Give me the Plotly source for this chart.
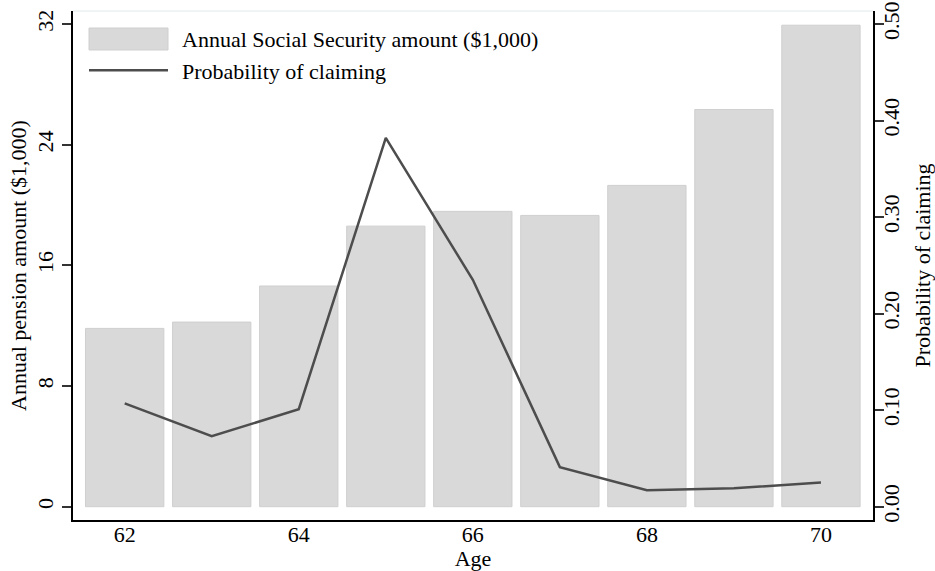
import plotly.graph_objects as go

# Data
ages = [62, 63, 64, 65, 66, 67, 68, 69, 70]
ss_amount = [11.82, 12.24, 14.63, 18.60, 19.58, 19.31, 21.30, 26.33, 31.92]   # $1,000
p_claim = [0.107, 0.073, 0.101, 0.382, 0.235, 0.041, 0.017, 0.019, 0.025]
left_ticks = [0, 8, 16, 24, 32]
right_ticks = [0.0, 0.1, 0.2, 0.3, 0.4, 0.5]
x_ticks = [62, 64, 66, 68, 70]

bar_name = "Annual Social Security amount ($1,000)"
line_name = "Probability of claiming"

FONT = "'Liberation Serif', 'Times New Roman', Times, serif"
BAR_FILL = "#d9d9d9"
BAR_EDGE = "#cfcfcf"
LINE_COLOR = "#4d4d4d"

W, H = 935, 571
ML, MR, MT, MB = 73, 62, 11, 51
PW, PH = W - ML - MR, H - MT - MB

fig = go.Figure()
fig.add_trace(go.Bar(
    x=ages, y=ss_amount, width=0.9, name=bar_name,
    marker=dict(color=BAR_FILL, line=dict(color=BAR_EDGE, width=1)),
    yaxis="y", showlegend=False,
))
fig.add_trace(go.Scatter(
    x=ages, y=p_claim, mode="lines", name=line_name,
    line=dict(color=LINE_COLOR, width=2.5),
    yaxis="y2", showlegend=False,
))

tick_font = dict(family=FONT, size=22, color="black")

# left scale: 15.084 px per $1,000; right scale shares the pixel mapping (0.5 <-> 32)
y_lo, y_hi = -0.882, 32.862
fig.update_layout(
    width=W, height=H,
    margin=dict(l=ML, r=MR, t=MT, b=MB, pad=0),
    paper_bgcolor="white", plot_bgcolor="white",
    font=dict(family=FONT, size=22, color="black"),
    xaxis=dict(
        range=[61.406, 70.598], tickvals=x_ticks, ticks="",
        ticklabelstandoff=-6,
        showline=True, linecolor="black", linewidth=1.5,
        showgrid=False, zeroline=False, automargin=False,
        title=dict(text="Age", standoff=3, font=tick_font),
        tickfont=tick_font,
    ),
    yaxis=dict(
        range=[y_lo, y_hi], tickvals=left_ticks, tickangle=-90,
        ticks="outside", ticklen=9, tickcolor="#333333", tickwidth=1.5,
        showline=True, linecolor="black", linewidth=1.5,
        showgrid=False, zeroline=False, automargin=False,
        title=dict(text="Annual pension amount ($1,000)", standoff=1, font=tick_font),
        tickfont=tick_font,
    ),
    yaxis2=dict(
        range=[y_lo / 64, y_hi / 64], tickvals=right_ticks, tickformat=".2f",
        tickangle=-90, overlaying="y", side="right",
        ticks="outside", ticklen=9, tickcolor="#333333", tickwidth=1.5,
        ticklabelstandoff=-11,
        showline=True, linecolor="black", linewidth=1.5,
        showgrid=False, zeroline=False, automargin=False,
        title=dict(text=line_name, standoff=11, font=tick_font),
        tickfont=tick_font,
    ),
    bargap=0.1,
)

# faint plot-region border along the top
fig.add_shape(type="line", xref="paper", yref="paper", x0=0, x1=1, y0=1, y1=1,
              line=dict(color="#e4eaec", width=1))


def px_x(px):
    return (px - ML) / PW


def px_y(py):
    return (H - MB - py) / PH


# legend drawn in the upper-left of the plot region
fig.add_shape(type="rect", xref="paper", yref="paper",
              x0=px_x(89), x1=px_x(168), y0=px_y(50), y1=px_y(28),
              fillcolor=BAR_FILL, line=dict(color=BAR_EDGE, width=1))
fig.add_shape(type="line", xref="paper", yref="paper",
              x0=px_x(89), x1=px_x(168), y0=px_y(70.3), y1=px_y(70.3),
              line=dict(color=LINE_COLOR, width=2.5))
fig.add_annotation(xref="paper", yref="paper", x=px_x(180), y=px_y(39),
                   text=bar_name, showarrow=False, xanchor="left", yanchor="middle",
                   font=tick_font)
fig.add_annotation(xref="paper", yref="paper", x=px_x(180), y=px_y(71),
                   text=line_name, showarrow=False, xanchor="left", yanchor="middle",
                   font=tick_font)

fig.write_html("out.html")
